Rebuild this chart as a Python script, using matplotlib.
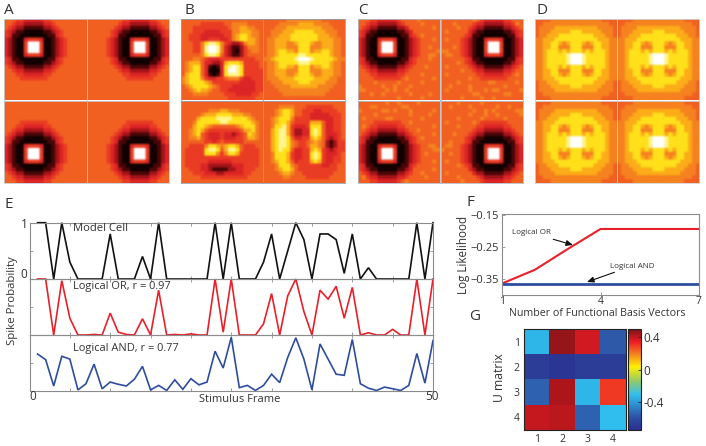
import numpy as np
import matplotlib
matplotlib.use("Agg")
import matplotlib.pyplot as plt
from matplotlib.colors import LinearSegmentedColormap

plt.rcParams['font.family'] = ['Open Sans', 'DejaVu Sans']

W, H = 706, 446

# ---- receptive-field panels: one hex digit per cell, level on the heat scale ----
A_RF = [
"555443333344555555555",
"554332222233455555555",
"543221111122345555555",
"432110000011234555555",
"431100000001134555555",
"321003444300123455555",
"321004" "aaa4" "001234" "55555",
"321004" "aaa4" "001234" "55555",
"321004" "aaa4" "001234" "55555",
"321003444300123455555",
"431100000001134555555",
"432110000011234555555",
"543221111122345555555",
"554332222233455555555",
"555443333344555555555",
"555544444445555555555",
"555555555555555555555",
"555555555555555555555",
"555555555555555555555",
"555555555555555555555",
"555555555555555555555",
]
B1 = [
"555555555555555555555",
"555554444445566665555",
"555444444444566776655",
"555444333344466777665",
"554443333334467887665",
"554443344433467887765",
"55544" "689986" "43223" "67765",
"55544" "69aa96" "32112" "46665",
"55544" "69aa96" "32102" "45665",
"55555" "689985" "32112" "45555",
"55566" "543334" "44444" "44455",
"56777" "533223" "78887" "44445",
"56788" "531013" "89a98" "44445",
"56788" "530003" "8aa98" "44444",
"57888" "531013" "89998" "44444",
"67888" "643344" "56664" "33444",
"67888" "876444" "44443" "33344",
"56788" "887654" "44333" "33344",
"55678" "776554" "43333" "33344",
"55566" "665555" "44433" "33445",
"55555" "555555" "54444" "44455",
]
B2 = [
"555555666666666555555",
"555566666777766665555",
"555666777777777666555",
"556667778888877766655",
"556677788888887776655",
"566777788888887777665",
"566777667888766777665",
"566777666888666777665",
"566788776888677887665",
"566788888998888887665",
"667888889aaa988888766",
"566788888999888887665",
"566788776888677887665",
"566777666888666777665",
"566777667888766777665",
"566677778888877776655",
"556667777888777766655",
"555666677777776666555",
"555566666666666665555",
"555556666666666655555",
"555555555555555555555",
]
B3 = [
"555555555555555555555",
"555555555555555555555",
"555555566677666555555",
"555556777888877766555",
"555578888999988887655",
"555688888899888888765",
"555788765555556788865",
"556787544444444577865",
"556785433343323458765",
"556675433343334457765",
"555555443454444455555",
"554444688767887544455",
"544444899857998544445",
"544444888646887444445",
"544444444444444444445",
"544444433333344444445",
"544443322222233344445",
"554443321111223344455",
"555444333223333344555",
"555554444444444445555",
"555555555555555555555",
]
B4 = [
"555555555555555555555",
"555566665554444444555",
"555678875544433444455",
"555678875544333334445",
"556788864444333333445",
"556788754444777533445",
"556889743334888533445",
"557899742233898533445",
"557899742233898533345",
"557899853344787532345",
"557899865445676521244",
"557899865445776521244",
"557898853344787432344",
"556888743344898433345",
"556888743344898433445",
"556788753444787433445",
"555688865444444334455",
"555678875444444444455",
"555567765544444444555",
"555556655554444445555",
"555555555555555555555",
]
C1 = [
"555443333345555655555",
"554332222234555565555",
"543221111122355555565",
"432110000011235555555",
"431100000001134565555",
"321003444300123455565",
"32100" "4aaa4" "00" "1234" "55555",
"32100" "4aaa4" "00" "1234" "55655",
"32100" "4aaa4" "00" "1234" "55556",
"321003444300123455665",
"431100000001134555655",
"432110000011234555555",
"543221111122345556555",
"554332222233455555555",
"555443333344555565555",
"555544444445655555565",
"555565555565555565555",
"655555655655565555555",
"665555565655655555555",
"555655655555565555655",
"555555555565555565555",
]
C2 = [
"555443333345655555555",
"564332222233455556555",
"543221111122345565555",
"432110000011235555565",
"431100000001134555555",
"321003444300123455565",
"32100" "4aaa4" "00" "1234" "55555",
"32100" "4aaa4" "00" "1234" "56555",
"32100" "4aaa4" "00" "1234" "55566",
"321003444300123455665",
"431100000001134555555",
"432110000011234565555",
"543221111122345555565",
"554332222233455655555",
"565443333344555555565",
"555544444445565555555",
"565555566555555565555",
"555565555555565555655",
"655555665655565555565",
"555665555556655555555",
"555555565565555655555",
]
D_RF = [
"555566666666666665555",
"556666666666666666655",
"566667777777777766665",
"566677777888777776665",
"566777888888888777665",
"667778888888888877766",
"66" "7788" "767" "888" "767" "8877" "66",
"66" "7788" "666" "888" "666" "8877" "66",
"66" "7888" "787" "888" "787" "8887" "66",
"66" "7888" "889" "aaa" "988" "8887" "66",
"66" "7888" "889" "aaa" "988" "8887" "66",
"66" "7888" "889" "aaa" "988" "8887" "66",
"66" "7888" "787" "888" "787" "8887" "66",
"66" "7788" "666" "888" "666" "8877" "66",
"66" "7788" "767" "888" "767" "8877" "66",
"667778888888888877766",
"566777888888888777665",
"566677777888777776665",
"566667777777777766665",
"556666666666666666655",
"555566666666666665555",
]
HEAT_COLORS = ['#120000', '#4a0708', '#a51419', '#dd2526', '#ea3c24', '#f15f22',
               '#f5821f', '#fbab18', '#ffe01b', '#fff58a', '#ffffff']
JET_POS = [0, .11, .35, .5, .625, .75, .875, 1]
JET_COLORS = ['#2b2f8f', '#2e4ba0', '#30bfee', '#9ecb5b', '#fff200', '#f58220', '#ed1c24', '#7a1315']

# ---- panel E ----
frames = list(range(1, 51))
model_cell = [1, 1, 0, 1, .3, 0, 0, 0, 0, .8, 0, 0, 0, .4, 0, 1, 0, 0, 0, 0, 0, 0, 1, 0, 1,
              0, 0, 0, .3, .8, 0, .5, 1, .7, 0, .8, .8, .7, .1, .8, 0, .2, 0, 0, 0, 0, 0, 1, 0, 1]
logical_or = [1, 1, 0, .97, .3, 0, 0, .01, 0, .39, .05, .01, 0, .29, 0, .8, 0, .01, 0, .02, 0, 0, 1, .05, 1,
              0, 0, 0, .2, .74, 0, .7, 1, .42, 0, .8, .64, .87, .3, .85, 0, .04, 0, 0, .1, 0, 0, 1, 0, 1]
logical_and = [.66, .56, .09, .62, .57, .02, .13, .48, .04, .16, .12, .09, .21, .44, .02, .10, .01, .2, .03, .22,
               .11, .16, .71, .41, .96, .06, .1, .01, .1, .3, .15, .6, .95, .57, .02, .84, .57, .3, .28, .92,
               .13, .05, .01, .07, .04, .01, .1, .67, .14, .9]

# ---- panel F ----
basis_n = [1, 2, 3, 4, 5, 6, 7]
ll_or = [-.365, -.322, -.257, -.194, -.194, -.194, -.194]
ll_and = [-.365, -.365, -.365, -.365, -.365, -.365, -.365]

# ---- panel G ----
u_matrix = [[-.33, .46, .38, -.57],
            [-.67, -.71, -.67, -.67],
            [-.55, .43, -.33, .30],
            [.40, .41, -.55, -.31]]

TEXT = '#333333'
GREY = '#8c8c8c'


def box(x0, y0, x1, y1):
    return fig.add_axes([x0 / W, 1 - y1 / H, (x1 - x0) / W, (y1 - y0) / H])


def put(x, y, s, **kw):
    kw.setdefault('color', TEXT)
    kw.setdefault('fontsize', 8.5)
    kw.setdefault('va', 'center')
    fig.text(x / W, 1 - y / H, s, **kw)


def grid(rows):
    return np.array([[int(c, 16) for c in r] for r in rows])


fig = plt.figure(figsize=(W / 100, H / 100), dpi=100)
cmap = LinearSegmentedColormap.from_list('heat', HEAT_COLORS, N=256)
jet_like = LinearSegmentedColormap.from_list('jetlike', list(zip(JET_POS, JET_COLORS)), N=256)

a, b1, b2, b3, b4, c1, c2, d = map(grid, (A_RF, B1, B2, B3, B4, C1, C2, D_RF))
groups = [
    ((4, 86.5, 87, 168.5), (a, a[:, ::-1], a[::-1], a[::-1, ::-1]), '#c4ccd4'),
    ((181, 262.5, 263, 345), (b1, b2, b3, b4), '#8fa3b5'),
    ((358, 440, 441, 522.5), (c1, c2[:, ::-1], c2[::-1], c1[::-1, ::-1]), '#b4bcc4'),
    ((535, 616.5, 617, 699), (d, d, d[::-1], d[::-1]), '#d0d4d8'),
]
for (x0, x1, x2, x3), imgs, edge in groups:
    pos = [(x0, 19, x1, 100.5), (x2, 19, x3, 100.5), (x0, 101.5, x1, 183), (x2, 101.5, x3, 183)]
    for p, m in zip(pos, imgs):
        ax = box(*p)
        ax.imshow(m, cmap=cmap, vmin=0, vmax=10, aspect='auto', interpolation='hanning',
                  interpolation_stage='rgba')
        ax.set_xticks([]); ax.set_yticks([])
        for s in ax.spines.values():
            s.set_color(edge); s.set_linewidth(.6)

for s, x, y in [('A', 4, 11), ('B', 184, 11), ('C', 358, 11), ('D', 537, 11),
                ('E', 5, 204), ('F', 467, 203), ('G', 469, 316)]:
    put(x, y, s, fontsize=11)

# panel E
rows = [(222.7, 279, model_cell, '#111111'), (279, 335, logical_or, '#e8202a'), (335, 391, logical_and, '#2e4d9f')]
for y0, y1, vals, col in rows:
    ax = box(29.5, y0, 433, y1)
    ax.plot(frames, vals, color=col, lw=1.2, clip_on=False, solid_joinstyle='miter')
    ax.set_xlim(0, 50); ax.set_ylim(0, 1)
    ax.set_xticks(range(0, 51, 5)); ax.set_yticks([.5])
    ax.tick_params(direction='in', top=True, right=True, length=2, width=.6, color=GREY,
                   labelleft=False, labelbottom=False)
    for s in ax.spines.values():
        s.set_color(GREY); s.set_linewidth(.8)
    ax.patch.set_alpha(0)
put(73, 228, 'Model Cell', fontsize=8.1)
put(73, 286, 'Logical OR, r = 0.97', fontsize=7.9)
put(73, 348, 'Logical AND, r = 0.77', fontsize=7.9)
put(24, 225, '1', ha='center')
put(24, 275, '0', ha='center')
put(33, 397, '0', ha='center')
put(432, 397, '50', ha='center')
put(240, 399, 'Stimulus Frame', ha='center', fontsize=8)
put(13, 301, 'Spike Probability', rotation=90, ha='center', fontsize=8.2)

# panel F
ax = box(502, 214, 699, 295)
ax.plot(basis_n, ll_or, color='#e8202a', lw=1.5)
ax.plot(basis_n, ll_and, color='#2e4d9f', lw=2)
ax.set_xlim(1, 7); ax.set_ylim(-.401, -.147)
ax.set_xticks([1, 4, 7]); ax.set_yticks([-.35, -.25, -.15])
ax.set_yticklabels(['\u22120.35', '\u22120.25', '\u22120.15'])
ax.tick_params(direction='in', length=2, width=.6, color=GREY, labelsize=8, labelcolor=TEXT, pad=2)
ax.tick_params(axis='x', labelsize=7.5, pad=1)
for s in ax.spines.values():
    s.set_color(GREY); s.set_linewidth(.8)
arrow = dict(arrowstyle='-|>,head_length=0.7,head_width=0.3', color='#111111', lw=.8, shrinkA=0, shrinkB=0)
ax.annotate('Logical OR', xy=(573 / W, 1 - 245 / H), xytext=(551 / W, 1 - 233 / H), xycoords='figure fraction',
            textcoords='figure fraction', ha='right', va='center', fontsize=5.8, color=TEXT, arrowprops=arrow)
ax.annotate('Logical AND', xy=(587 / W, 1 - 282 / H), xytext=(610 / W, 1 - 266 / H), xycoords='figure fraction',
            textcoords='figure fraction', ha='left', va='center', fontsize=5.8, color=TEXT, arrowprops=arrow)
put(463, 255, 'Log Likelihood', rotation=90, ha='center', fontsize=8.4)
put(597, 313, 'Number of Functional Basis Vectors', ha='center', fontsize=7.7)

# panel G
ax = box(524, 329, 625.5, 430)
im = ax.imshow(u_matrix, cmap=jet_like, vmin=-.745, vmax=.5, aspect='auto', interpolation='nearest')
ax.set_xticks(range(4)); ax.set_xticklabels(['1', '2', '3', '4'])
ax.set_yticks(range(4)); ax.set_yticklabels(['1', '2', '3', '4'])
ax.tick_params(length=0, labelsize=7.5, labelcolor=TEXT, pad=3)
for s in ax.spines.values():
    s.set_color('#222222'); s.set_linewidth(.8)
cax = box(627.5, 329, 641, 430)
cb = fig.colorbar(im, cax=cax, ticks=[-.4, 0, .4])
cb.ax.set_yticklabels(['-0.4', '0', '0.4'])
cb.ax.tick_params(direction='in', length=2, width=.6, labelsize=8.5, labelcolor=TEXT, pad=2, color='#222222')
cb.outline.set_edgecolor('#222222'); cb.outline.set_linewidth(.8)
put(500, 378, 'U matrix', rotation=90, ha='center', fontsize=8.7)

fig.savefig('out.png', dpi=100)
